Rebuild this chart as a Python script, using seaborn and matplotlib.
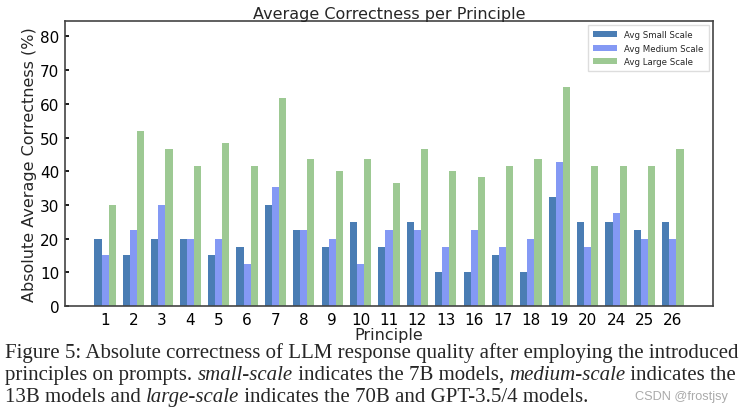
import pandas as pd
import matplotlib.pyplot as plt
import seaborn as sns

# values
principles = ['1', '2', '3', '4', '5', '6', '7', '8', '9', '10', '11',
              '12', '13', '16', '17', '18', '19', '20', '24', '25', '26']
small_scale = [20, 15, 20, 20, 15, 17.5, 30, 22.5, 17.5, 25, 17.5,
               25, 10, 10, 15, 10, 32.5, 25, 25, 22.5, 25]
medium_scale = [15, 22.5, 30, 20, 20, 12.5, 35.2, 22.5, 20, 12.5, 22.5,
                22.5, 17.5, 22.5, 17.5, 20, 42.6, 17.5, 27.5, 20, 20]
large_scale = [30, 51.8, 46.7, 41.7, 48.5, 41.7, 61.8, 43.5, 40, 43.5, 36.6,
               46.7, 40, 38.4, 41.7, 43.5, 65.1, 41.7, 41.7, 41.7, 46.7]
series_names = ['Avg Small Scale', 'Avg Medium Scale', 'Avg Large Scale']
colors = ['#4a7db4', '#8499f4', '#9dc993']

frames = []
for name, vals in zip(series_names, [small_scale, medium_scale, large_scale]):
    frames.append(pd.DataFrame({'principle': principles, 'value': vals, 'scale': name}))
data = pd.concat(frames)

sns.set_theme(style='ticks')
plt.rcParams['font.family'] = ['DejaVu Sans']

fig = plt.figure(figsize=(7.44, 4.14), dpi=100)
ax = fig.add_axes([65 / 744, 1 - 307 / 414, 648 / 744, 285 / 414])

sns.barplot(x='principle', y='value', hue='scale', data=data, order=principles,
            hue_order=series_names, palette=colors, width=0.75, errorbar=None,
            saturation=1, edgecolor='none', linewidth=0, ax=ax)

# matplotlib-like 5% margins around the bars
ax.set_xlim(-1.4125, 21.4125)
ax.set_ylim(0, 84.6)
ax.set_yticks(range(0, 81, 10))
ax.set_title('Average Correctness per Principle', fontsize=11.5, pad=2)
ax.set_xlabel('Principle', fontsize=11.5, labelpad=0)
ax.set_ylabel('Absolute Average Correctness (%)', fontsize=11.5, labelpad=2)
ax.tick_params(direction='in', labelsize=11, length=3, pad=4, colors='black')
for s in ax.spines.values():
    s.set_color('#444444')
    s.set_linewidth(1.2)

ax.legend(loc='upper right', fontsize=6.2, frameon=True, framealpha=1,
          edgecolor='#dddddd', fancybox=False, borderpad=0.6, handlelength=2.8)

caption = [
    [('Figure 5: Absolute correctness of LLM response quality after employing the introduced', 'normal')],
    [('principles on prompts. ', 'normal'), ('small-scale', 'italic'),
     (' indicates the 7B models, ', 'normal'), ('medium-scale', 'italic'),
     (' indicates the', 'normal')],
    [('13B models and ', 'normal'), ('large-scale', 'italic'),
     (' indicates the 70B and GPT-3.5/4 models.', 'normal')],
]
fig.canvas.draw()
renderer = fig.canvas.get_renderer()
ys = [1 - 358 / 414, 1 - 380 / 414, 1 - 402 / 414]
for line, y in zip(caption, ys):
    x = 5 / 744
    for txt, style in line:
        t = fig.text(x, y, txt, fontsize=15, family='Liberation Serif', style=style,
                     ha='left', va='baseline')
        bb = t.get_window_extent(renderer)
        x += bb.width / 744

fig.text(635 / 744, 1 - 400 / 414, 'CSDN @frostjsy', fontsize=9.2, color='#aaaaaa',
         family='Liberation Sans', va='baseline')

fig.savefig('out.png', dpi=100)
